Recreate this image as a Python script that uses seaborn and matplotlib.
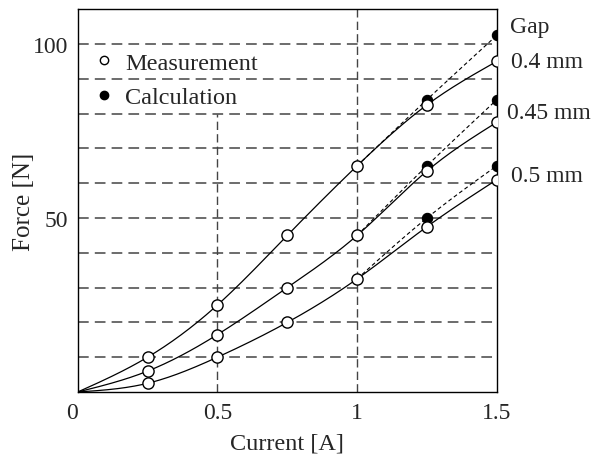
import numpy as np
import pandas as pd
import matplotlib
matplotlib.use("Agg")
import matplotlib.pyplot as plt
import seaborn as sns
from matplotlib.lines import Line2D

# measured force vs coil current for three air gaps
current = [0, 0.25, 0.5, 0.75, 1.0, 1.25, 1.5]
meas_04 = [0, 10, 25, 45, 65, 82.5, 95]
meas_045 = [0, 6, 16.5, 30, 45, 63.5, 77.5]
meas_05 = [0, 2.5, 10, 20, 32.5, 47.5, 61]

# calculated values (start from the 1 A measurement)
calc_current = [1.0, 1.25, 1.5]
calc_04 = [65, 84, 102.5]
calc_045 = [45, 65, 84]
calc_05 = [32.5, 50, 65]

gap_labels = ["0.4 mm", "0.45 mm", "0.5 mm"]
label_y = [95, 80.3, 62.3]


def spline(x, y, n=200):
    """Natural cubic spline through the points, only used to draw smooth curves."""
    x = np.asarray(x, float)
    y = np.asarray(y, float)
    k = len(x)
    h = np.diff(x)
    A = np.zeros((k, k))
    b = np.zeros(k)
    A[0, 0] = A[-1, -1] = 1
    for i in range(1, k - 1):
        A[i, i - 1] = h[i - 1]
        A[i, i] = 2 * (h[i - 1] + h[i])
        A[i, i + 1] = h[i]
        b[i] = 6 * ((y[i + 1] - y[i]) / h[i] - (y[i] - y[i - 1]) / h[i - 1])
    m = np.linalg.solve(A, b)
    xs = np.linspace(x[0], x[-1], n)
    idx = np.clip(np.searchsorted(x, xs) - 1, 0, k - 2)
    x0, x1 = x[idx], x[idx + 1]
    hh = x1 - x0
    t0, t1 = x1 - xs, xs - x0
    ys = (m[idx] * t0**3 + m[idx + 1] * t1**3) / (6 * hh) \
        + (y[idx] / hh - m[idx] * hh / 6) * t0 \
        + (y[idx + 1] / hh - m[idx + 1] * hh / 6) * t1
    return xs, ys


sns.set_style("white")
plt.rcParams["font.family"] = ["Liberation Serif", "DejaVu Serif"]
plt.rcParams["font.size"] = 17

fig = plt.figure(figsize=(6.03, 4.6), dpi=100)
ax = fig.add_axes([0.129, 0.1457, 0.695, 0.8323])

grid_kw = dict(color="#444444", linewidth=1.1, linestyle=(0, (7, 4)))
ax.hlines(np.arange(10, 101, 10), 0, 1.5, zorder=1, **grid_kw)
ax.vlines(0.5, 0, 80, zorder=1, color="#444444", linewidth=1.0, linestyle=(0, (6, 3)))
ax.vlines(1.0, 0, 110, zorder=1, color="#444444", linewidth=1.0, linestyle=(0, (6, 3)))

for meas, calc in [(meas_04, calc_04), (meas_045, calc_045), (meas_05, calc_05)]:
    xs, ys = spline(current, meas)
    sns.lineplot(x=xs, y=ys, ax=ax, color="black", linewidth=0.9, sort=False, zorder=2)
    xc, yc = spline(calc_current, calc, 60)
    ax.plot(xc, yc, color="black", linewidth=0.8, linestyle=(0, (3.5, 2.5)), zorder=2)
    sns.scatterplot(x=calc_current[1:], y=calc[1:], ax=ax, color="black", s=55,
                    edgecolor="black", linewidth=0.8, zorder=3)
    sns.scatterplot(x=current[1:], y=meas[1:], ax=ax, color="white", s=65,
                    edgecolor="black", linewidth=1.0, zorder=4)

for lab, ly in zip(gap_labels, label_y):
    ax.text(1.552 if lab != "0.45 mm" else 1.538, ly, lab, va="center", ha="left",
            fontsize=17, clip_on=False)
ax.text(1.547, 105, "Gap", va="center", ha="left", fontsize=17, clip_on=False)

ax.set_xlim(0, 1.5)
ax.set_ylim(0, 110)
ax.set_xticks([0, 0.5, 1, 1.5])
ax.set_xticklabels(["0", "0.5", "1", "1.5"])
ax.get_xticklabels()[0].set_horizontalalignment("right")
ax.set_yticks([50, 100])
ax.tick_params(length=0, labelsize=17, pad=7)
ax.set_xlabel("Current [A]", fontsize=17.5, labelpad=7)
ax.set_ylabel("Force [N]", fontsize=18, labelpad=-2)
for s in ax.spines.values():
    s.set_color("black")
    s.set_linewidth(1.0)

handles = [
    Line2D([], [], marker="o", linestyle="none", markerfacecolor="white",
           markeredgecolor="black", markersize=6, markeredgewidth=1.0),
    Line2D([], [], marker="o", linestyle="none", markerfacecolor="black",
           markeredgecolor="black", markersize=6),
]
leg = ax.legend(handles, ["Measurement", "Calculation"], loc="upper left",
                bbox_to_anchor=(0.005, 0.92), frameon=False, handlelength=1.0,
                handletextpad=0.35, labelspacing=0.5, fontsize=17.5, borderpad=0)

fig.savefig("out.png", dpi=100)
